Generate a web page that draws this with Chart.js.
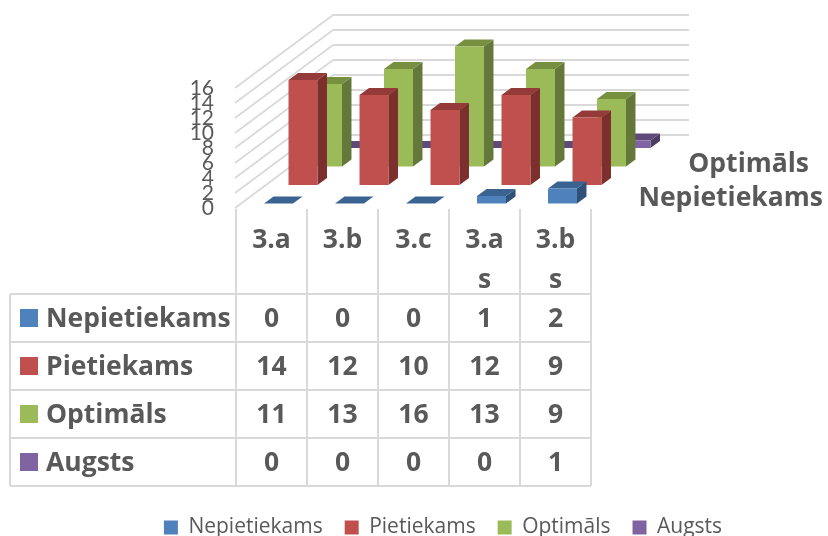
<!DOCTYPE html>
<html>
<head>
<meta charset="utf-8">
<title>Sniegumu līmeņi</title>
<script src="https://cdn.jsdelivr.net/npm/chart.js@4"></script>
<style>
  html, body { margin: 0; padding: 0; background: #fff; }
  canvas { display: block; }
</style>
</head>
<body>
<canvas id="chart" width="828" height="536"></canvas>
<script>
const categories = ['3.a', '3.b', '3.c', ['3.a', 's'], ['3.b', 's']];
const seriesNames = ['Nepietiekams', 'Pietiekams', 'Optimāls', 'Augsts'];
const nepietiekams = [0, 0, 0, 1, 2];
const pietiekams = [14, 12, 10, 12, 9];
const optimals = [11, 13, 16, 13, 9];
const augsts = [0, 0, 0, 0, 1];
const depthLabels = ['Optimāls', 'Nepietiekams'];

const FONT = '"Open Sans", sans-serif';
const TEXT = '#595959';
const GRID = '#d9d9d9';
const front = ['#4f81bd', '#c0504d', '#9bbb59', '#8064a2'];
const topFace = ['#3a6391', '#943a38', '#76903f', '#5f4a7a'];
const sideFace = ['#2f5077', '#7c2f2d', '#64783a', '#4d3c62'];

// oblique projection of the depth axis, in px
const wallDx = 98, wallDy = -73;
const seriesDx = 24.5, seriesDy = -18.5;
const firstDx = 7, firstDy = -4.5;
const barDx = 9.5, barDy = -7;

function poly(ctx, color, pts) {
  ctx.fillStyle = color;
  ctx.beginPath();
  pts.forEach((p, i) => i ? ctx.lineTo(p[0], p[1]) : ctx.moveTo(p[0], p[1]));
  ctx.closePath();
  ctx.fill();
}

function line(ctx, x1, y1, x2, y2) {
  ctx.beginPath();
  ctx.moveTo(x1, y1);
  ctx.lineTo(x2, y2);
  ctx.stroke();
}

const walls = {
  id: 'walls',
  beforeDatasetsDraw(chart) {
    const { ctx, chartArea: a, scales } = chart;
    ctx.save();
    ctx.strokeStyle = GRID;
    ctx.lineWidth = 1.8;
    scales.y.ticks.forEach(t => {
      const y = scales.y.getPixelForValue(t.value);
      line(ctx, a.left - 1, y, a.left - 1 + wallDx, y + wallDy);
      line(ctx, a.left - 1 + wallDx, y + wallDy, a.right + wallDx, y + wallDy);
    });
    ctx.restore();
  }
};

const boxes = {
  id: 'boxes',
  // every bar keeps the library's x, y, base and width, only pushed back along the depth axis
  beforeDatasetDraw(chart, args) {
    const { ctx } = chart;
    const i = args.index;
    const dx = firstDx + seriesDx * i, dy = firstDy + seriesDy * i;
    ctx.save();
    args.meta.data.forEach(bar => {
      const l = bar.x - bar.width / 2 + dx, r = bar.x + bar.width / 2 + dx;
      const t = bar.y + dy, b = bar.base + dy;
      poly(ctx, sideFace[i], [[r, t], [r + barDx, t + barDy], [r + barDx, b + barDy], [r, b]]);
      poly(ctx, topFace[i], [[l, t], [l + barDx, t + barDy], [r + barDx, t + barDy], [r, t]]);
      if (b > t) poly(ctx, front[i], [[l, t], [r, t], [r, b], [l, b]]);
    });
    ctx.restore();
    return false;
  }
};

const dataTable = {
  id: 'dataTable',
  afterDraw(chart) {
    const { ctx, chartArea: a, scales } = chart;
    const rowTop = 294, rowH = 48, tableLeft = 10;
    const colW = (a.right - a.left) / categories.length;
    ctx.save();
    ctx.strokeStyle = GRID;
    ctx.lineWidth = 2;
    for (let c = 0; c <= categories.length; c++) {
      const x = a.left + colW * c;
      line(ctx, x, a.bottom + 1, x, rowTop + rowH * seriesNames.length);
    }
    line(ctx, tableLeft, rowTop, tableLeft, rowTop + rowH * seriesNames.length);
    for (let r = 0; r <= seriesNames.length; r++) {
      line(ctx, tableLeft, rowTop + rowH * r, a.right, rowTop + rowH * r);
    }
    ctx.textBaseline = 'middle';
    ctx.fillStyle = TEXT;
    ctx.font = 'bold 26.5px ' + FONT;
    chart.data.datasets.forEach((ds, r) => {
      const cy = rowTop + rowH * r + rowH / 2;
      ctx.fillStyle = front[r];
      ctx.fillRect(20, cy - 9, 18, 18);
      ctx.fillStyle = TEXT;
      ctx.textAlign = 'left';
      ctx.fillText(ds.label, 46, cy + 1);
      ctx.textAlign = 'center';
      ds.data.forEach((v, c) => ctx.fillText(String(v), scales.x.getPixelForValue(c), cy + 1));
    });
    // depth axis labels, the other two were dropped by the original too
    ctx.textAlign = 'right';
    ctx.fillText(depthLabels[0], 809, 164);
    ctx.fillText(depthLabels[1], 823, 198);
    ctx.restore();
  }
};

new Chart(document.getElementById('chart'), {
  type: 'bar',
  data: {
    labels: categories,
    datasets: [
      { label: seriesNames[0], data: nepietiekams, backgroundColor: front[0] },
      { label: seriesNames[1], data: pietiekams, backgroundColor: front[1] },
      { label: seriesNames[2], data: optimals, backgroundColor: front[2] },
      { label: seriesNames[3], data: augsts, backgroundColor: front[3] }
    ]
  },
  plugins: [walls, boxes, dataTable],
  options: {
    responsive: false,
    animation: false,
    layout: { padding: { left: 58, right: 0, top: 88, bottom: -12 } },
    datasets: { bar: { grouped: false, categoryPercentage: 1, barPercentage: 0.408 } },
    plugins: {
      tooltip: { enabled: false },
      legend: {
        position: 'bottom',
        labels: {
          boxWidth: 14, boxHeight: 14, padding: 22, color: TEXT,
          font: { family: FONT, size: 21 }
        }
      }
    },
    scales: {
      x: {
        grid: { display: false },
        border: { display: false },
        afterFit: s => { s.height = 287; },
        ticks: {
          color: TEXT, padding: 4, maxRotation: 0, autoSkip: false,
          font: { family: FONT, size: 26.5, weight: 'bold', lineHeight: 1.52 }
        }
      },
      y: {
        min: 0, max: 16,
        grid: { display: false },
        border: { display: false },
        afterFit: s => { s.width = 178; },
        ticks: {
          stepSize: 2, autoSkip: false, color: TEXT, padding: 14,
          font: { family: 'Lato, sans-serif', size: 21 }
        }
      },
      y2: {
        position: 'right',
        grid: { display: false },
        border: { display: false },
        ticks: { display: false },
        afterFit: s => { s.width = 237; }
      }
    }
  }
});
</script>
</body>
</html>
